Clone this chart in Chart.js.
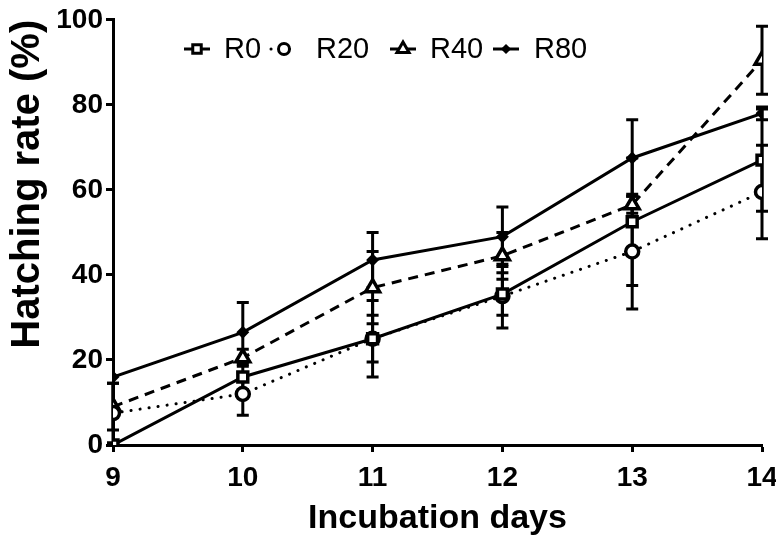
<!DOCTYPE html>
<html>
<head>
<meta charset="utf-8">
<script src="https://cdn.jsdelivr.net/npm/chart.js@4.4.0/dist/chart.umd.min.js"></script>
<style>
  html, body { margin: 0; padding: 0; background: #fff; }
  #wrap { width: 776px; height: 543px; position: relative; }
</style>
</head>
<body>
<div id="wrap"><canvas id="chart"></canvas></div>
<script>
const days = [9, 10, 11, 12, 13, 14];
const yTicks = [0, 20, 40, 60, 80, 100];

const r0 = [0, 16, 25, 35.5, 52.5, 67];
const r0Err = [0, 3, 9, 5, 15, 12];
const r20 = [7.5, 12, 25, 35, 45.5, 59.5];
const r20Err = [7, 5, 5.5, 7.5, 13.5, 11];
const r40 = [9, 20.5, 37, 44.5, 56.5, 90.5];
const r40Err = [5.5, 2, 8.5, 5.5, 2, 8];
const r80 = [16, 26.5, 43.5, 49, 67.5, 78];
const r80Err = [0, 7, 6.5, 7, 9, 1.5];

const FONT = "'Liberation Sans', Arial, sans-serif";

const toPts = (vals) => vals.map((v, i) => ({ x: days[i], y: v }));

/* ===== error bars, drawn behind markers ===== */
const errorBars = {
  id: "errorBars",
  beforeDatasetsDraw(chart) {
    const { ctx, scales } = chart;
    const xs = scales.x, ys = scales.y;
    ctx.save();
    ctx.strokeStyle = "#000";
    ctx.lineWidth = 3;
    chart.data.datasets.forEach((ds) => {
      ds.err.forEach((e, i) => {
        if (!e) return;
        const x = xs.getPixelForValue(days[i]);
        const top = ys.getPixelForValue(ds.data[i].y + e);
        const bot = ys.getPixelForValue(Math.max(0, ds.data[i].y - e));
        ctx.beginPath();
        ctx.moveTo(x, top); ctx.lineTo(x, bot);
        ctx.moveTo(x - 6, top); ctx.lineTo(x + 6, top);
        ctx.moveTo(x - 6, bot); ctx.lineTo(x + 6, bot);
        ctx.stroke();
      });
    });
    ctx.restore();
  },
};

/* ===== legend inside plot ===== */
const inLegend = {
  id: "inLegend",
  afterDraw(chart) {
    const { ctx } = chart;
    const y = 49;
    const items = [
      { x: 184, tx: 224 },
      { x: 271, tx: 316 },
      { x: 390, tx: 430 },
      { x: 493, tx: 534 },
    ];
    ctx.save();
    chart.data.datasets.forEach((ds, i) => {
      const it = items[i];
      const w = 26;
      ctx.strokeStyle = "#000";
      ctx.lineWidth = 3;
      ctx.setLineDash(ds.borderDash || []);
      ctx.lineCap = ds.borderCapStyle || "butt";
      ctx.beginPath();
      ctx.moveTo(it.x, y); ctx.lineTo(it.x + w, y);
      ctx.stroke();
      ctx.setLineDash([]);
      ctx.lineCap = "butt";
      ctx.fillStyle = ds.pointBackgroundColor;
      Chart.helpers.drawPoint(ctx, {
        pointStyle: ds.pointStyle,
        radius: ds.pointRadius - 1,
        borderWidth: ds.pointBorderWidth,
        rotation: 0,
      }, it.x + w / 2, y);
      ctx.fillStyle = "#000";
      ctx.font = "29px " + FONT;
      ctx.textBaseline = "middle";
      ctx.fillText(ds.label, it.tx, y + 1);
    });
    ctx.restore();
  },
};

const mk = (label, vals, err, style, radius, dash, cap, fill) => ({
  label,
  data: toPts(vals),
  err,
  borderColor: "#000",
  borderWidth: 3,
  borderDash: dash,
  borderCapStyle: cap,
  pointStyle: style,
  pointRadius: radius,
  pointBorderWidth: 3.5,
  pointBorderColor: "#000",
  pointBackgroundColor: fill,
  tension: 0,
});

new Chart(document.getElementById("chart"), {
  type: "line",
  data: {
    datasets: [
      mk("R0", r0, r0Err, "rect", 7, [], "butt", "#fff"),
      mk("R20", r20, r20Err, "circle", 6.5, [0.1, 9], "round", "#fff"),
      mk("R40", r40, r40Err, "triangle", 8, [10, 7], "butt", "#fff"),
      mk("R80", r80, r80Err, "rectRot", 4, [], "butt", "#000"),
    ],
  },
  options: {
    responsive: true,
    maintainAspectRatio: false,
    animation: false,
    layout: { padding: { top: 14, right: 0, left: 0, bottom: 0 } },
    plugins: { legend: { display: false }, tooltip: { enabled: false } },
    scales: {
      x: {
        type: "linear",
        min: days[0],
        max: days[days.length - 1],
        afterBuildTicks: (s) => { s.ticks = days.map((v) => ({ value: v })); },
        afterFit: (s) => { s.height = 98; s.paddingRight = 14; },
        grid: { display: true, drawOnChartArea: false, tickLength: 7, tickWidth: 3, color: "#000" },
        border: { color: "#000", width: 3 },
        ticks: { color: "#000", padding: 9, font: { family: FONT, size: 28, weight: "bold" }, maxRotation: 0, autoSkip: false },
        title: { display: true, text: "Incubation days", color: "#000", padding: { top: 3 }, font: { family: FONT, size: 34, weight: "bold" } },
      },
      y: {
        min: 0,
        max: 100,
        afterBuildTicks: (s) => { s.ticks = yTicks.map((v) => ({ value: v })); },
        afterFit: (s) => { s.width = 113; },
        grid: { display: true, drawOnChartArea: false, tickLength: 7, tickWidth: 3, color: "#000" },
        border: { color: "#000", width: 3 },
        ticks: { color: "#000", padding: 3, font: { family: FONT, size: 28, weight: "bold" } },
        title: { display: true, text: "Hatching rate (%)", color: "#000", align: "end", padding: { bottom: 2 }, font: { family: FONT, size: 40, weight: "bold" } },
      },
    },
  },
  plugins: [errorBars, inLegend],
});
</script>
</body>
</html>
